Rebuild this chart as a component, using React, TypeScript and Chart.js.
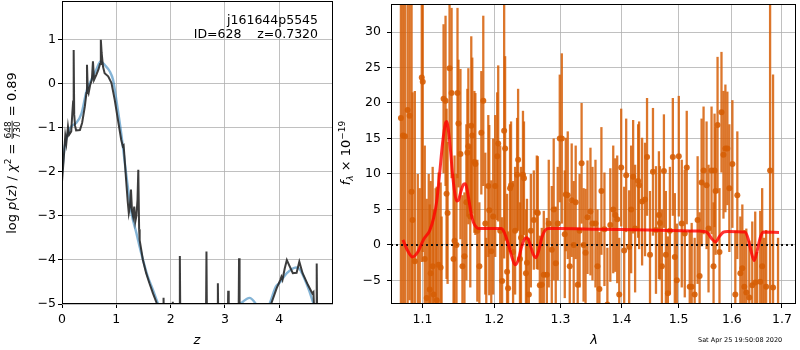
import React, { useEffect, useRef } from "react";
import { Chart, registerables } from "chart.js";
Chart.register(...registerables);

// ---------------- Left panel: log p(z) ----------------
const zTicks = [0, 1, 2, 3, 4];
const lnpTicks = [-5, -4, -3, -2, -1, 0, 1];

const zDark = [
  0.0, 0.03, 0.06, 0.08, 0.11, 0.13, 0.17, 0.19, 0.205, 0.215,
  0.225, 0.24, 0.26, 0.33, 0.37, 0.42, 0.45, 0.46, 0.475, 0.49,
  0.52, 0.55, 0.57, 0.59, 0.63, 0.67, 0.7, 0.715, 0.73, 0.755,
  0.785, 0.85, 0.91, 0.97, 1.03, 1.09, 1.12, 1.135, 1.15, 1.18,
  1.21, 1.23, 1.25, 1.27, 1.29, 1.31, 1.33, 1.35, 1.37, 1.39,
  1.405, 1.42, 1.43, 1.49, 1.55, 1.61, 1.675, 1.75, 1.8, 1.86,
  1.87, 1.88, 2.03, 2.04, 2.05, 2.16, 2.17, 2.18, 2.65, 2.66,
  2.67, 2.86, 2.87, 2.88, 3.05, 3.06, 3.07, 3.25, 3.26, 3.27,
  3.75, 3.85, 3.95, 4.02, 4.04, 4.06, 4.1, 4.14, 4.18, 4.25,
  4.32, 4.37, 4.43, 4.53, 4.61, 4.63, 4.645, 4.68, 4.69, 4.7, 4.75,
];
const lnpDark = [
  -2.22, -1.73, -1.18, -1.35, -0.97, -1.16, -1.08, -0.67, -0.4, 0.77,
  -0.7, -0.95, -1.06, -1.05, -0.89, -0.52, -0.21, 0.43, -0.15, -0.21,
  -0.02, 0.09, 0.51, 0.09, 0.2, 0.32, 0.45, 1.0, 0.7, 0.39,
  0.24, 0.17, 0.02, -0.36, -0.82, -1.27, -1.42, -1.4, -1.65, -2.18,
  -2.67, -2.94, -2.8, -2.4, -2.9, -3.02, -2.79, -3.13, -3.0, -2.64,
  -1.95, -3.3, -3.55, -4.0, -4.3, -4.53, -4.76, -5.0, -5.35, -5.6,
  -4.86, -5.6, -5.6, -4.95, -5.6, -5.6, -3.91, -5.6, -5.6, -3.81,
  -5.6, -5.6, -4.53, -5.6, -5.6, -4.7, -5.6, -5.6, -3.96, -5.6,
  -5.6, -5.0, -4.65, -4.45, -4.38, -4.45, -4.2, -4.0, -4.11, -4.3,
  -4.29, -4.04, -4.3, -4.57, -4.76, -4.73, -5.2, -5.2, -4.08, -5.6, -5.8,
];

const zSmooth = [
  0.0, 0.05, 0.11, 0.17, 0.26, 0.36, 0.45, 0.54, 0.63, 0.71,
  0.785, 0.88, 0.94, 1.0, 1.09, 1.18, 1.28, 1.37, 1.46, 1.58,
  1.675, 1.77, 1.9, 2.2, 2.6, 3.0, 3.2, 3.33, 3.45, 3.56,
  3.65, 3.75, 3.82, 3.94, 4.0, 4.14, 4.31, 4.37, 4.5, 4.62, 4.7,
];
const lnpSmooth = [
  -2.03, -1.42, -1.12, -0.97, -0.89, -0.67, -0.17, 0.09, 0.32, 0.51,
  0.43, 0.28, 0.09, -0.36, -1.12, -2.03, -2.94, -3.39, -3.85, -4.38,
  -4.68, -5.0, -5.4, -5.8, -5.8, -5.5, -5.1, -4.95, -4.86, -4.98,
  -5.2, -5.15, -5.0, -4.6, -4.53, -4.3, -4.17, -4.2, -4.53, -4.95, -5.3,
];

// ---------------- Right panel: spectrum ----------------
const waveTicks = [1.1, 1.2, 1.3, 1.4, 1.5, 1.6, 1.7];
const fluxTicks = [-5, 0, 5, 10, 15, 20, 25, 30];

const wave = [
  1.0717, 1.0743, 1.0769, 1.0804, 1.083, 1.0856, 1.0869, 1.0899, 1.0938, 1.0964,
  1.0991, 1.1004, 1.1031, 1.1057, 1.1084, 1.1097, 1.111, 1.1137, 1.115, 1.1177,
  1.1191, 1.1217, 1.1245, 1.1258, 1.1285, 1.1312, 1.1326, 1.134, 1.1367, 1.1395,
  1.1422, 1.1436, 1.1463, 1.1477, 1.149, 1.1518, 1.1546, 1.1574, 1.1601, 1.1615,
  1.1629, 1.1656, 1.167, 1.1684, 1.1714, 1.1728, 1.1756, 1.1785, 1.1813, 1.1841,
  1.187, 1.1884, 1.1913, 1.1927, 1.1956, 1.1984, 1.2013, 1.2042, 1.2057, 1.2086,
  1.2114, 1.2144, 1.2158, 1.2187, 1.2202, 1.2231, 1.2246, 1.2276, 1.2306, 1.2336,
  1.2351, 1.2379, 1.2394, 1.2424, 1.2439, 1.2469, 1.2484, 1.2513, 1.2543, 1.2588,
  1.2634, 1.2649, 1.268, 1.271, 1.2741, 1.2788, 1.2818, 1.2865, 1.2895, 1.2927,
  1.2958, 1.299, 1.3022, 1.3069, 1.3085, 1.3116, 1.3148, 1.3179, 1.3211, 1.3243,
  1.3275, 1.3306, 1.3338, 1.337, 1.3402, 1.3434, 1.3482, 1.3515, 1.3564, 1.3597,
  1.3629, 1.3662, 1.3712, 1.3761, 1.381, 1.3859, 1.3893, 1.3926, 1.396, 1.3993,
  1.4044, 1.4078, 1.4129, 1.4163, 1.4197, 1.4231, 1.4283, 1.43, 1.4352, 1.4403,
  1.4438, 1.449, 1.4542, 1.4595, 1.4647, 1.4665, 1.47, 1.4736, 1.4771, 1.4807,
  1.4843, 1.4896, 1.4932, 1.4968, 1.5004, 1.5058, 1.5113, 1.5149, 1.5204, 1.524,
  1.5295, 1.535, 1.5387, 1.5424, 1.5461, 1.5517, 1.5554, 1.5611, 1.5649, 1.5668,
  1.5687, 1.5725, 1.5762, 1.58, 1.5838, 1.5875, 1.5913, 1.5951, 1.601, 1.6067,
  1.6106, 1.6165, 1.6204, 1.6243, 1.6282, 1.6341, 1.64, 1.6459, 1.6498, 1.6559,
  1.6598, 1.6638, 1.6678, 1.6758, 1.6818, 1.692,
];
const flux = [
  17.9, 15.4, 15.3, 19.0, 18.2, 7.5, 3.5, -2.3, -12, -10,
  23.6, 23.0, -2.0, -7.5, -10, -6.3, -4.0, -3.0, -7.0, -12,
  -7.8, -2.8, -3.2, -10, 20.6, 20.3, 7.2, 4.5, 24.9, 21.4,
  -2, 0.6, 0, 21.4, 17.1, 12.8, -3, -1.6, 6, 13.0,
  13.9, 4, 16.8, 15.4, 11.7, 11.4, 2, -3, 15.8, 20.3,
  3, -9, 8.3, 4.9, -0.9, 4, 8.3, 12.5, 14.3, 2,
  -5.1, 16.1, 13.6, -3.8, -6.1, 8.0, 8.4, -1, 2, 9.9,
  12.0, -2, 1, 9.9, 9.4, -4, -2.5, -7, 2, 3.5,
  4.6, 4.5, -5.7, -5.6, -4.2, -4.2, 3, -0.7, 5, -2.6,
  3, 15.0, 15.0, 1.5, 7.1, 7.0, -3, 6.3, 0, 6.0,
  -5.6, 2, 11.5, 0, -1.1, 3.9, 4.7, 3.0, 3.0, -3,
  -6.2, 7.6, 2.2, -8.4, 2.8, 5.0, 4.2, 3.6, -7.0, 10.9,
  -0.8, 9.8, -0.3, 5, 9.6, 2.3, 9.0, 8.4, 6.1, 6.4,
  12.4, -1.4, 10.3, 2.1, 4.2, 3.1, -3, 10.4, -1.4, -6.8,
  2, 12.4, -1.7, -5, 12.5, 3.0, 1.6, 10.9, -5.9, -5.9,
  -7.0, 3.5, -4.4, 8.8, 10.5, 8.4, 2.3, 10.5, -3, 10.5,
  7.6, 16.9, -1.0, 18.7, 12.7, 13.6, 13.6, 8.0, 11.4, -7.0,
  7.0, -4.0, -3.3, -5.9, -6.7, -7.4, -5.7, -5.3, -9, -5.2,
  -3.0, -9, -5.9, 10.5, -6, -12,
];
const fluxErr = [
  30, 30, 28, 30, 26, 30, 18, 24, 22, 18,
  26, 24, 16, 14, 20, 12, 13, 14, 12, 20,
  16, 13, 12, 14, 10.5, 12, 12, 10, 10, 12,
  12, 12, 10, 12, 9, 12, 10, 9, 11, 9,
  11, 10, 12.6, 11, 10, 10, 10, 9, 8.7, 12,
  10, 10, 10, 12, 10, 11, 10, 9, 11, 12,
  9, 18, 13, 11, 8, 9, 9, 10, 9, 8,
  10, 8, 10, 9, 8, 9, 9, 8, 8, 7,
  8, 8, 7, 8, 9, 8, 9, 9, 10, 8,
  8, 9, 12, 9, 8, 9, 9, 8, 9, 8,
  8, 8, 8.5, 8, 9, 8, 9, 8, 9, 8,
  8, 9, 8, 8, 8, 9, 8, 9, 8, 8.3,
  9, 8, 8, 9, 8, 9, 8, 9, 9, 8,
  8.3, 9, 9, 9, 9, 8, 8, 8, 9, 8,
  9, 8.3, 9, 8, 8.5, 9, 9, 8, 8, 9,
  8, 9, 9, 9, 9, 9, 9, 9, 9, 8,
  9, 9.6, 9, 8.5, 9, 9, 8, 9, 9, 9,
  9, 8, 9, 8, 9, 8, 9, 10, 8, 10,
  11, 10, 8, 28, 30, 13,
];

const modelWave = [
  1.0743, 1.0804, 1.0869, 1.0938, 1.1017, 1.1097, 1.115, 1.1191, 1.1231, 1.1272,
  1.1312, 1.1326, 1.1353, 1.1381, 1.1408, 1.1436, 1.1463, 1.149, 1.1518, 1.156,
  1.1587, 1.1615, 1.1642, 1.167, 1.17, 1.1742, 1.1785, 1.1927, 1.21, 1.2144,
  1.2202, 1.2261, 1.2306, 1.2351, 1.2394, 1.2439, 1.2484, 1.2528, 1.2573, 1.2619,
  1.2664, 1.271, 1.2757, 1.2818, 1.2975, 1.3613, 1.4455, 1.535, 1.5461, 1.5536,
  1.5611, 1.5687, 1.5762, 1.5838, 1.5913, 1.6262, 1.6321, 1.638, 1.6439, 1.6498,
  1.6559, 1.6618, 1.694,
];
const modelFlux = [
  0.7, -0.8, -1.7, -1.0, 0.8, 2.0, 3.8, 6.1, 10, 14.4,
  17.2, 17.4, 16, 13.2, 10, 7.5, 6.2, 6.3, 7.3, 8.5,
  8.6, 7.6, 6.0, 4.3, 3.2, 2.5, 2.3, 2.3, 2.3, 1.8,
  0.2, -1.8, -2.8, -2.2, -0.6, 0.7, 1.0, 0.2, -1.2, -1.8,
  -0.8, 1.0, 2.0, 2.3, 2.3, 2.2, 2.1, 1.95, 1.9, 1.7,
  0.9, 0.4, 1.2, 1.8, 1.9, 1.8, 0.8, -1.0, -2.2, -0.8,
  1.0, 1.8, 1.75,
];

const FONT = '"DejaVu Sans", sans-serif';
const TICK_FONT = { family: '"DejaVu Sans", sans-serif', size: 12.5 };
const GRID = "#b0b0b0";
const ORANGE_BAR = "rgba(214, 94, 6, 0.85)";
const ORANGE_PT = "rgba(214, 94, 6, 0.9)";

const minus = (v: number) => (v < 0 ? "\u2212" + Math.abs(v) : String(v));

type Run = { t?: string; it?: boolean; s?: number; dy?: number; frac?: [string, string] };

function drawRuns(ctx: CanvasRenderingContext2D, runs: Run[], base: number, cx: number, cy: number, rotated: boolean) {
  ctx.save();
  ctx.translate(cx, cy);
  if (rotated) ctx.rotate(-Math.PI / 2);
  const fontOf = (r: Run) => `${r.it ? "italic " : ""}${r.s ?? base}px ${FONT}`;
  const widths = runs.map((r) => {
    ctx.font = fontOf(r);
    if (r.frac) return Math.max(ctx.measureText(r.frac[0]).width, ctx.measureText(r.frac[1]).width) + 2;
    return ctx.measureText(r.t || "").width;
  });
  const total = widths.reduce((a, b) => a + b, 0);
  let x = -total / 2;
  ctx.fillStyle = "#000";
  ctx.textBaseline = "alphabetic";
  runs.forEach((r, i) => {
    ctx.font = fontOf(r);
    if (r.frac) {
      const w = widths[i];
      const axis = -base * 0.3;
      const fs = r.s ?? base;
      ctx.textAlign = "center";
      ctx.fillText(r.frac[0], x + w / 2, axis - 1.5);
      ctx.fillText(r.frac[1], x + w / 2, axis + fs * 0.75 + 1.5);
      ctx.fillRect(x + 0.5, axis - 0.4, w - 1, 0.8);
    } else {
      ctx.textAlign = "left";
      ctx.fillText(r.t || "", x, r.dy ?? 0);
    }
    x += widths[i];
  });
  ctx.restore();
}

const framePlugin = {
  id: "frame",
  afterDatasetsDraw(chart: any) {
    const { ctx, chartArea: a } = chart;
    ctx.save();
    ctx.strokeStyle = "#000";
    ctx.lineWidth = 1;
    ctx.strokeRect(a.left + 0.5, a.top + 0.5, a.right - a.left - 1, a.bottom - a.top - 1);
    ctx.restore();
  },
};

const leftTextPlugin = {
  id: "leftText",
  afterDraw(chart: any) {
    const { ctx } = chart;
    ctx.save();
    ctx.fillStyle = "#000";
    ctx.font = `12.5px ${FONT}`;
    ctx.textAlign = "right";
    ctx.textBaseline = "alphabetic";
    ctx.fillText("j161644p5545", 318, 24);
    ctx.fillText("ID=628    z=0.7320", 318, 38.3);
    ctx.font = `italic 13px ${FONT}`;
    ctx.textAlign = "center";
    ctx.fillText("z", 197, 344);
    ctx.restore();
    drawRuns(
      ctx,
      [
        { t: "log " },
        { t: "p", it: true },
        { t: "(" },
        { t: "z", it: true },
        { t: ")" },
        { t: " / " },
        { t: "\u03c7", it: true },
        { t: "2", s: 9, dy: -5 },
        { t: " = " },
        { frac: ["648", "730"], s: 9 },
        { t: " = 0.89" },
      ],
      13,
      16,
      153,
      true
    );
  },
};

const rightPlugin = {
  id: "rightDeco",
  beforeDatasetsDraw(chart: any) {
    const { ctx, chartArea: a, scales } = chart;
    const xs = scales.x;
    const ys = scales.y;
    ctx.save();
    ctx.beginPath();
    ctx.rect(a.left, a.top, a.right - a.left, a.bottom - a.top);
    ctx.clip();
    ctx.strokeStyle = ORANGE_BAR;
    ctx.lineWidth = 2.3;
    for (let i = 0; i < wave.length; i++) {
      const x = xs.getPixelForValue(wave[i]);
      ctx.beginPath();
      ctx.moveTo(x, ys.getPixelForValue(flux[i] + fluxErr[i]));
      ctx.lineTo(x, ys.getPixelForValue(flux[i] - fluxErr[i]));
      ctx.stroke();
    }
    const y0 = ys.getPixelForValue(0);
    ctx.setLineDash([2, 3]);
    ctx.strokeStyle = "#111";
    ctx.lineWidth = 2;
    ctx.beginPath();
    ctx.moveTo(a.left, y0);
    ctx.lineTo(a.right, y0);
    ctx.stroke();
    ctx.restore();
  },
  afterDraw(chart: any) {
    const { ctx } = chart;
    ctx.save();
    ctx.fillStyle = "#000";
    ctx.font = `italic 13px ${FONT}`;
    ctx.textAlign = "center";
    ctx.fillText("\u03bb", 594, 344);
    ctx.font = `6.5px ${FONT}`;
    ctx.textAlign = "left";
    ctx.fillText("Sat Apr 25 19:50:08 2020", 698, 341.5);
    ctx.restore();
    drawRuns(
      ctx,
      [
        { t: "f", it: true },
        { t: "\u03bb", it: true, s: 9, dy: 3 },
        { t: " \u00d7 10" },
        { t: "\u221219", s: 9, dy: -5 },
      ],
      13,
      350,
      153,
      true
    );
  },
};

function axisCommon(ticksArr: number[], fmt: (v: number) => string, pad: number, fit: (s: any) => void) {
  return {
    grid: { color: GRID, lineWidth: 0.8, drawTicks: true, tickLength: 4, tickColor: "#000", tickWidth: 1 },
    border: { display: false },
    ticks: { font: TICK_FONT, color: "#000", padding: pad, autoSkip: false, maxRotation: 0, callback: (v: any) => fmt(Number(v)) },
    afterBuildTicks: (s: any) => {
      s.ticks = ticksArr.map((v) => ({ value: v }));
    },
    afterFit: (s: any) => {
      fit(s);
      s.paddingTop = 0;
      s.paddingBottom = 0;
      s.paddingLeft = 0;
      s.paddingRight = 0;
    },
  };
}

export default function App() {
  const leftRef = useRef<HTMLCanvasElement>(null);
  const rightRef = useRef<HTMLCanvasElement>(null);

  useEffect(() => {
    const left = new Chart(leftRef.current!, {
      type: "scatter",
      data: {
        datasets: [
          {
            data: zDark.map((z, i) => ({ x: z, y: lnpDark[i] })),
            showLine: true,
            borderColor: "rgba(40,40,40,0.9)",
            borderWidth: 2,
            pointRadius: 0,
            order: 0,
          },
          {
            data: zSmooth.map((z, i) => ({ x: z, y: lnpSmooth[i] })),
            showLine: true,
            borderColor: "rgba(31,119,180,0.55)",
            borderWidth: 2.4,
            pointRadius: 0,
            cubicInterpolationMode: "monotone",
            order: 1,
          },
        ],
      },
      options: {
        responsive: false,
        animation: false,
        devicePixelRatio: 1,
        layout: { padding: { left: 0, top: 1, right: 467, bottom: 0 } },
        plugins: { legend: { display: false }, tooltip: { enabled: false } },
        scales: {
          x: {
            type: "linear",
            min: 0,
            max: 4.99,
            ...axisCommon(zTicks, minus, 4, (s: any) => { s.height = 46; }),
          },
          y: {
            type: "linear",
            min: -5,
            max: 1.88,
            ...axisCommon(lnpTicks, minus, 2, (s: any) => { s.width = 62; }),
          },
        } as any,
      },
      plugins: [framePlugin, leftTextPlugin],
    } as any);

    const right = new Chart(rightRef.current!, {
      type: "scatter",
      data: {
        datasets: [
          {
            data: modelWave.map((w, i) => ({ x: w, y: modelFlux[i] })),
            showLine: true,
            borderColor: "rgba(255,0,0,0.8)",
            borderWidth: 3,
            pointRadius: 0,
            cubicInterpolationMode: "monotone",
            order: 0,
          },
          {
            data: wave.map((w, i) => ({ x: w, y: flux[i] })),
            showLine: false,
            pointRadius: 3,
            pointBackgroundColor: ORANGE_PT,
            pointBorderWidth: 0,
            order: 1,
          },
        ],
      },
      options: {
        responsive: false,
        animation: false,
        devicePixelRatio: 1,
        layout: { padding: { left: 346, top: 1, right: 1, bottom: 0 } },
        plugins: { legend: { display: false }, tooltip: { enabled: false } },
        scales: {
          x: {
            type: "logarithmic",
            min: 1.0589,
            max: 1.7292,
            ...axisCommon(waveTicks, (v) => v.toFixed(1), 4, (s: any) => { s.height = 46; }),
          },
          y: {
            type: "linear",
            min: -8.33,
            max: 33.95,
            ...axisCommon(fluxTicks, minus, 6, (s: any) => { s.width = 45; }),
          },
        } as any,
      },
      plugins: [framePlugin, rightPlugin],
    } as any);

    return () => {
      left.destroy();
      right.destroy();
    };
  }, []);

  return (
    <div style={{ position: "fixed", left: 0, top: 0, width: 800, height: 350, background: "#fff" }}>
      <canvas ref={leftRef} width={800} height={350} style={{ position: "absolute", left: 0, top: 0 }} />
      <canvas ref={rightRef} width={800} height={350} style={{ position: "absolute", left: 0, top: 0 }} />
    </div>
  );
}
